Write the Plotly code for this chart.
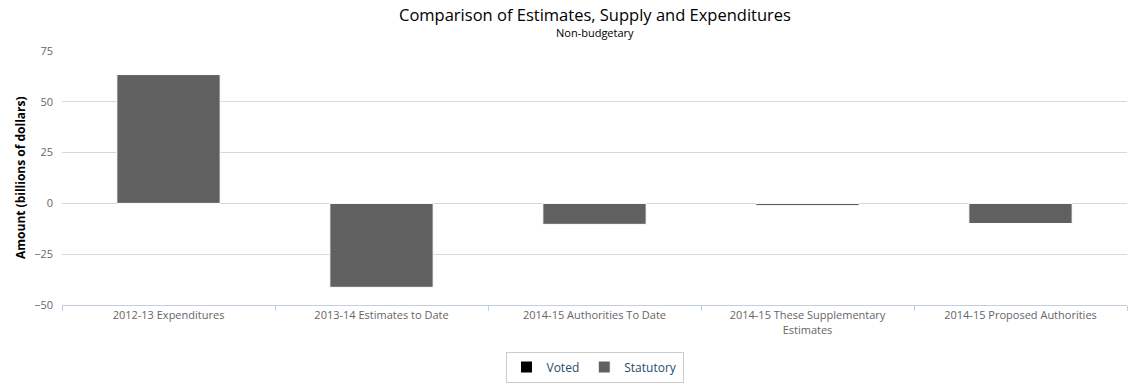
import plotly.graph_objects as go

categories = [
    "2012-13 Expenditures",
    "2013-14 Estimates to Date",
    "2014-15 Authorities To Date",
    "2014-15 These Supplementary<br>Estimates",
    "2014-15 Proposed Authorities",
]
voted = [0, 0, 0, 0, 0]
statutory = [63.4, -41.3, -10.3, -1.1, -9.9]

title_text = "Comparison of Estimates, Supply and Expenditures"
subtitle_text = "Non-budgetary"
y_title = "Amount (billions of dollars)"
y_ticks = [-50, -25, 0, 25, 50, 75]

fig = go.Figure()
fig.add_trace(go.Bar(
    x=categories, y=voted, name="Voted",
    marker=dict(color="#000000", line=dict(color="#ffffff", width=1)),
))
fig.add_trace(go.Bar(
    x=categories, y=statutory, name="Statutory",
    marker=dict(color="#606060", line=dict(color="#ffffff", width=1)),
))

fig.update_layout(
    width=1135, height=391,
    barmode="relative",
    bargap=0.515,
    plot_bgcolor="#ffffff",
    paper_bgcolor="#ffffff",
    margin=dict(l=62, r=8, t=51, b=86, autoexpand=False),
    font=dict(family="Open Sans, DejaVu Sans, sans-serif", color="#666666", size=11),
    showlegend=True,
    legend=dict(
        orientation="h", x=0.5, xanchor="center",
        yref="container", y=1 - 367 / 391, yanchor="middle",
        bordercolor="#cccccc", borderwidth=1, bgcolor="#ffffff",
        font=dict(size=12, color="#274b6d", family="Open Sans, sans-serif"),
        itemwidth=30, traceorder="normal",
    ),
    annotations=[
        dict(text=title_text, x=0.5, xref="paper", y=1 + 36.5 / 254, yref="paper",
             xanchor="center", yanchor="middle", showarrow=False,
             font=dict(size=16.5, color="#000000", family="Open Sans, sans-serif")),
        dict(text=subtitle_text, x=0.5, xref="paper", y=1 + 18 / 254, yref="paper",
             xanchor="center", yanchor="middle", showarrow=False,
             font=dict(size=11, color="#000000", family="Open Sans, sans-serif")),
        dict(text="<b>" + y_title + "</b>", x=-42 / 1065, xref="paper", y=0.5, yref="paper",
             xanchor="center", yanchor="middle", showarrow=False, textangle=-90,
             font=dict(size=12, color="#000000", family="Open Sans, sans-serif")),
    ],
)

fig.update_xaxes(
    type="category",
    automargin=False,
    tickson="boundaries",
    ticks="outside", ticklen=5, tickcolor="#C0D0E0",
    showline=True, linecolor="#C0D0E0", linewidth=1,
    showgrid=False,
    tickfont=dict(size=11, color="#666666", family="Open Sans, sans-serif"),
)
fig.update_yaxes(
    automargin=False,
    range=[-50, 75], tickvals=y_ticks,
    showgrid=True, gridcolor="#D8D8D8", gridwidth=1,
    zeroline=True, zerolinecolor="#D8D8D8", zerolinewidth=1,
    showline=False, ticks="",
    tickfont=dict(size=11, color="#666666", family="Open Sans, sans-serif"),
    ticklabelstandoff=8,
)

fig.write_html(
    "out.html",
    config={"displayModeBar": False},
    post_script="document.body.style.margin='0';document.body.style.overflow='hidden';",
)
